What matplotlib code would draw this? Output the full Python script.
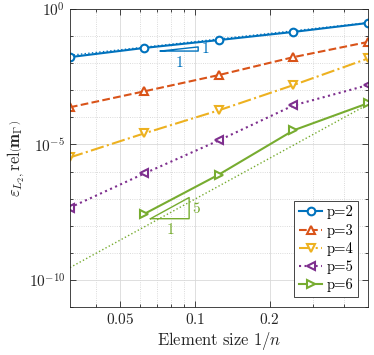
import numpy as np
import matplotlib
matplotlib.use("Agg")
import matplotlib.pyplot as plt
from matplotlib.ticker import FixedLocator, NullFormatter, FixedFormatter

plt.rcParams['mathtext.fontset'] = 'cm'
plt.rcParams['font.family'] = 'serif'
plt.rcParams['font.serif'] = ['cmr10', 'DejaVu Serif']
plt.rcParams['axes.unicode_minus'] = False

# element sizes 1/n
h = [1/32, 1/16, 1/8, 1/4, 1/2]

# relative L2 errors (log10)
err_p2 = [-1.78, -1.44, -1.15, -0.85, -0.52]
err_p3 = [-3.63, -3.04, -2.44, -1.78, -1.22]
err_p4 = [-5.48, -4.59, -3.74, -2.81, -1.83]
err_p5 = [-7.33, -6.07, -4.85, -3.56, -2.81]
err_p6 = [np.nan, -7.56, -6.11, -4.48, -3.48]

labels = ['p=2', 'p=3', 'p=4', 'p=5', 'p=6']
colors = ['#0072BD', '#D95319', '#EDB120', '#7E2F8E', '#77AC30']
markers = ['o', '^', 'v', '<', '>']
styles = ['-', '--', '-.', ':', '-']

# reference slopes: (order, value at h=1/2)
ref_p2 = (1, 0.31)
ref_p6 = (5, 3.0e-4)

# slope triangles: (x_left, x_right, y_base, order)
tri_p2 = (0.0725, 0.103, 0.0278, 1)
tri_p6 = (0.0661, 0.0947, 1.82e-8, 5)

fig = plt.figure(figsize=(3.74, 3.55), dpi=100)
ax = fig.add_axes([0.187, 0.135, 0.797, 0.84])

hh = np.array(h)
for vals, lab, c, m, ls in zip([err_p2, err_p3, err_p4, err_p5, err_p6],
                               labels, colors, markers, styles):
    ax.plot(hh, 10.0**np.array(vals), linestyle=ls, color=c, marker=m,
            markerfacecolor='white', markeredgecolor=c, markersize=5.5,
            markeredgewidth=1.5, linewidth=1.5, label=lab)

# reference lines
for (order, v), c in [(ref_p2, colors[0]), (ref_p6, colors[4])]:
    ax.plot(hh, v * (hh / 0.5)**order, ':', color=c, linewidth=1.0, zorder=1)

# slope triangles
for (x0, x1, y0, order), c in [(tri_p2, colors[0]), (tri_p6, colors[4])]:
    y1 = y0 * (x1 / x0)**order
    ax.plot([x0, x1, x1, x0], [y0, y0, y1, y0], '-', color=c, linewidth=1.0)
    ax.text(np.sqrt(x0 * x1), y0 / 1.35, r'$1$', color=c, fontsize=11,
            ha='center', va='top')
    ax.text(x1 * 1.03, np.sqrt(y0 * y1), r'$%d$' % order, color=c, fontsize=11,
            ha='left', va='center')

ax.set_xscale('log')
ax.set_yscale('log')
ax.set_xlim(1/32, 1/2)
ax.set_ylim(1e-11, 1)

ax.xaxis.set_major_locator(FixedLocator([0.05, 0.1, 0.2]))
ax.xaxis.set_major_formatter(FixedFormatter([r'$0.05$', r'$0.1$', r'$0.2$']))
ax.xaxis.set_minor_locator(FixedLocator([0.04, 0.06, 0.07, 0.08, 0.09, 0.3, 0.4]))
ax.xaxis.set_minor_formatter(NullFormatter())

ax.yaxis.set_major_locator(FixedLocator([1e-10, 1e-5, 1]))
ax.yaxis.set_major_formatter(FixedFormatter([r'$10^{-10}$', r'$10^{-5}$', r'$10^{0}$']))
ax.yaxis.set_minor_locator(FixedLocator([10.0**k for k in range(-11, 0)]))
ax.yaxis.set_minor_formatter(NullFormatter())

ax.grid(True, which='major', color='#d9d9d9', linestyle='-', linewidth=0.6)
ax.grid(True, which='minor', color='#cfcfcf', linestyle=':', linewidth=0.6)
ax.set_axisbelow(True)

ax.tick_params(which='both', direction='in', top=True, right=True,
               colors='#262626', labelsize=11, width=0.6)
ax.tick_params(which='major', length=4)
ax.tick_params(which='minor', length=2)
for s in ax.spines.values():
    s.set_color('#262626')
    s.set_linewidth(0.6)

ax.set_xlabel(r'$\mathrm{Element\ size\ }1/n$', fontsize=12, color='#262626', labelpad=2)
ax.set_ylabel(r'$\varepsilon_{L_2,}\mathrm{rel}\left(\mathbf{m}_\Gamma\right)$',
              fontsize=12, color='#262626', labelpad=1)

leg = ax.legend(loc='lower right', fontsize=10.5, handlelength=1.6,
                fancybox=False, framealpha=1, edgecolor='#262626',
                borderaxespad=0.7, labelspacing=0.3, handletextpad=0.3,
                borderpad=0.3)
leg.get_frame().set_linewidth(0.6)

fig.savefig('out.png', dpi=100)
